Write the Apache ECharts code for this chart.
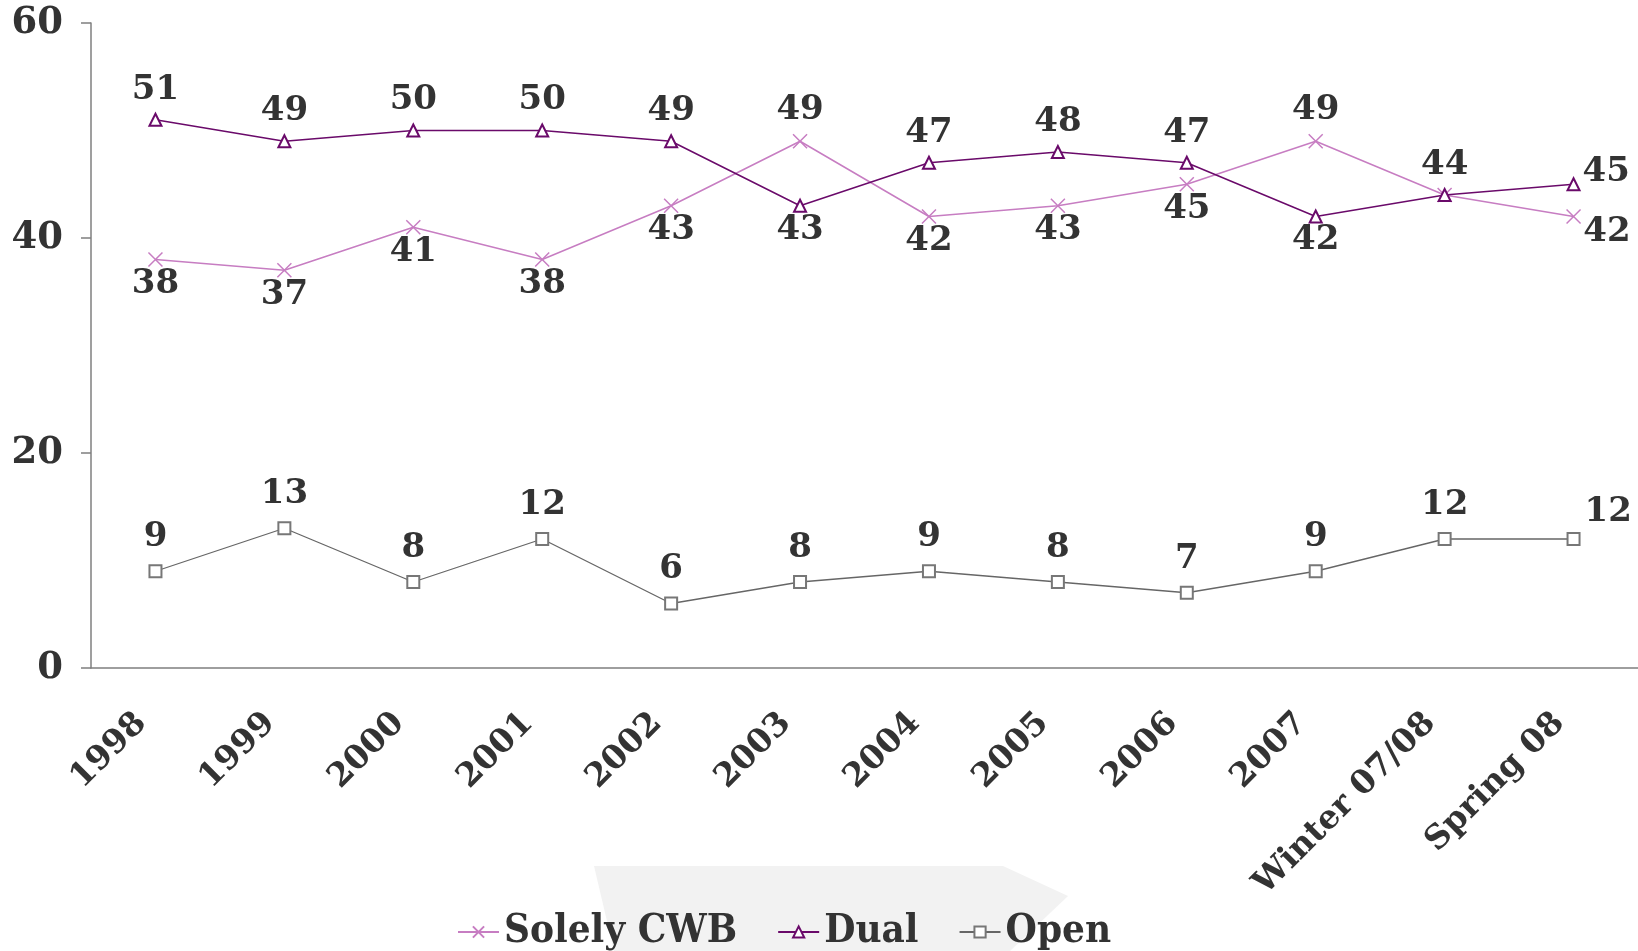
<!DOCTYPE html>
<html>
<head>
<meta charset="utf-8">
<script src="https://cdn.jsdelivr.net/npm/echarts@6/dist/echarts.min.js"></script>
<style>
  html, body { margin: 0; padding: 0; background: #fff; }
  #chart { width: 1638px; height: 951px; }
</style>
</head>
<body>
<div id="chart"></div>
<script>
var categories = ['1998', '1999', '2000', '2001', '2002', '2003', '2004', '2005', '2006', '2007', 'Winter 07/08', 'Spring 08'];
var solelyCWB = [38, 37, 41, 38, 43, 49, 42, 43, 45, 49, 44, 42];
var dual = [51, 49, 50, 50, 49, 43, 47, 48, 47, 42, 44, 45];
var open = [9, 13, 8, 12, 6, 8, 9, 8, 7, 9, 12, 12];
var yTicks = [0, 20, 40, 60];

var myChart = echarts.init(document.getElementById('chart'));

var numFont = 'DejaVu Serif';
var textColor = '#333333';

// label placement per point: t = top, b = bottom, r* = right of the last point, '' = hidden
var cwbPlace  = ['b', 'b', 'b', 'b', 'b', 't', 'b', 'b', 'b', 't', '', 'rb'];
var dualPlace = ['t', 't', 't', 't', 't', 'b', 't', 't', 't', 'b', 't', 'rt'];
var openPlace = ['to', 'to', 'to', 'to', 'to', 'to', 'to', 'to', 'to', 'to', 'to', 'rt2'];

function labelFor(p) {
    if (p === '') return { show: false };
    if (p === 't') return { position: 'top', distance: 6 };
    if (p === 'to') return { position: 'top', distance: 10 };
    if (p === 'b') return { position: 'bottom', distance: 0 };
    if (p === 'rb') return { position: 'right', distance: 2, offset: [0, 16] };
    if (p === 'rt') return { position: 'right', distance: 2, offset: [0, -12] };
    if (p === 'rt2') return { position: 'right', distance: 4, offset: [0, -27] };
}

function buildData(values, places) {
    return values.map(function (v, i) {
        return { value: v, label: labelFor(places[i]) };
    });
}

var baseLabel = {
    show: true,
    fontFamily: numFont,
    fontWeight: 'bold',
    fontSize: 34,
    color: textColor
};

var cwbColor = '#c77dc2';
var dualColor = '#6a0a6a';
var openColor = '#666666';

var option = {
    animation: false,
    backgroundColor: '#fff',
    graphic: [{
        type: 'polygon',
        z: -10,
        shape: { points: [[594, 866], [1003, 866], [1068, 896], [1010, 951], [614, 951]] },
        style: { fill: '#f2f2f2' }
    }],
    grid: { left: 91, top: 23, right: -4, bottom: 283 },
    legend: {
        bottom: -6,
        left: 452,
        itemWidth: 41,
        itemHeight: 14,
        itemGap: 40,
        textStyle: {
            fontFamily: 'DejaVu Serif Condensed',
            fontWeight: 'bold',
            fontSize: 40,
            color: textColor
        },
        data: ['Solely CWB', 'Dual', 'Open']
    },
    xAxis: {
        type: 'category',
        data: categories,
        boundaryGap: true,
        axisLine: { lineStyle: { color: '#7f7f7f', width: 1.5 } },
        axisTick: { length: 10, lineStyle: { color: '#7f7f7f', width: 1.5 } },
        axisLabel: {
            rotate: 45,
            interval: 0,
            margin: 36,
            padding: [0, 20, 0, 0],
            fontFamily: numFont,
            fontWeight: 'bold',
            fontSize: 33,
            color: textColor
        }
    },
    yAxis: {
        type: 'value',
        min: yTicks[0],
        max: yTicks[yTicks.length - 1],
        interval: yTicks[1] - yTicks[0],
        splitLine: { show: false },
        axisLine: { show: true, lineStyle: { color: '#7f7f7f', width: 1.5 } },
        axisTick: { show: true, length: 10, lineStyle: { color: '#7f7f7f', width: 1.5 } },
        axisLabel: {
            margin: 28,
            fontFamily: numFont,
            fontWeight: 'bold',
            fontSize: 37,
            color: textColor
        }
    },
    series: [
        {
            name: 'Solely CWB',
            type: 'line',
            data: buildData(solelyCWB, cwbPlace),
            symbol: 'path://M0,0L10,10M10,0L0,10',
            symbolSize: 14,
            lineStyle: { color: cwbColor, width: 1.5 },
            itemStyle: { color: cwbColor, borderColor: cwbColor, borderWidth: 1.5 },
            label: baseLabel,
            z: 2
        },
        {
            name: 'Dual',
            type: 'line',
            data: buildData(dual, dualPlace),
            symbol: 'emptyTriangle',
            symbolSize: 12,
            lineStyle: { color: dualColor, width: 1.5 },
            itemStyle: { color: dualColor, borderColor: dualColor, borderWidth: 1.5 },
            label: baseLabel,
            z: 3
        },
        {
            name: 'Open',
            type: 'line',
            data: buildData(open, openPlace),
            symbol: 'emptyRect',
            symbolSize: 12,
            lineStyle: { color: openColor, width: 1.3 },
            itemStyle: { color: '#777777', borderColor: '#777777', borderWidth: 1.5 },
            label: baseLabel,
            z: 2
        }
    ]
};

myChart.setOption(option);
</script>
</body>
</html>
